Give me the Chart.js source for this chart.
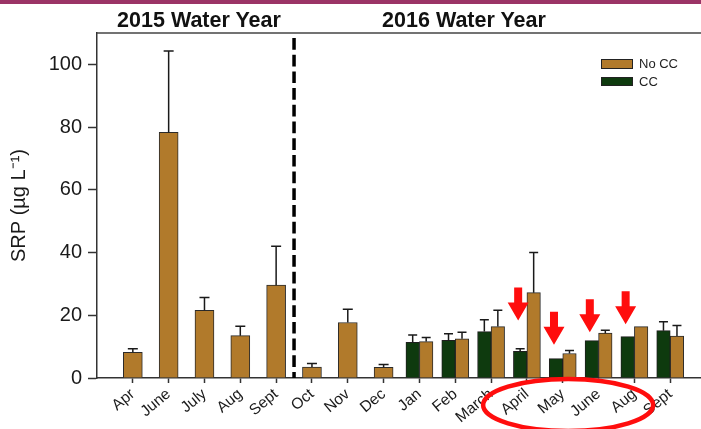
<!DOCTYPE html>
<html>
<head>
<meta charset="utf-8">
<title>SRP by month</title>
<script src="https://cdn.jsdelivr.net/npm/chart.js@4.4.0/dist/chart.umd.min.js"></script>
<style>
  body { margin:0; overflow:hidden; background:#fff; font-family:"Liberation Sans", Arial, sans-serif; }
  #wrap { position:relative; width:720px; height:429px; }
  #topBar { position:absolute; left:0; top:0; width:720px; height:4px; background:#9b3466; }
  .yearTitle { position:absolute; top:8px; line-height:24px; font-weight:bold; font-size:21.5px; color:#111; white-space:nowrap; transform:translateX(-50%); }
</style>
</head>
<body>
<div id="wrap">
  <canvas id="chart" width="720" height="429"></canvas>
  <div id="topBar"></div>
  <div class="yearTitle" style="left:199px">2015 Water Year</div>
  <div class="yearTitle" style="left:464px">2016 Water Year</div>
</div>
<script>
// values (µg/L), bar top and top of error bar
let months  = ["Apr","June","July","Aug","Sept","Oct","Nov","Dec","Jan","Feb","March","April","May","June","Aug","Sept"];
let noCC    = [8.2, 78.3, 21.6, 13.5, 29.6, 3.5, 17.7, 3.4, 11.6, 12.5, 16.4, 27.2, 7.8, 14.3, 16.4, 13.4];
let noCCErr = [9.3, 104.3, 25.7, 16.5, 42.0, 4.6, 21.9, 4.3, 12.9, 14.6, 21.6, 40.0, 8.8, 15.2, null, 16.7];
let cc      = [null, null, null, null, null, null, null, null, 11.4, 12.0, 14.8, 8.5, 6.2, 11.9, 13.2, 15.1];
let ccErr   = [null, null, null, null, null, null, null, null, 13.7, 14.1, 18.6, 9.3, null, null, null, 17.9];
let yMax = 110;
let yStep = 20;
// red arrows (2016 April, May, June, Aug) and where their tips sit, in µg/L
let arrowIdx  = [11, 12, 13, 14];
let arrowTips = [18.3, 10.6, 14.6, 17.1];

const FONT = "'Liberation Sans', Arial, sans-serif";
const BROWN = "#b17a2b";
const GREEN = "#0e3a0e";

// blank slot at each end so the ticks land where the original has them
const labels = [""].concat(months, [""]);
const pad = arr => [null].concat(arr, [null]);
const single = noCC.map((v, i) => cc[i] == null ? v : null);
const paired = noCC.map((v, i) => cc[i] == null ? null : v);

const errorBars = {
  id: "errorBars",
  afterDatasetsDraw(chart) {
    const ctx = chart.ctx, ys = chart.scales.y;
    ctx.save();
    ctx.strokeStyle = "#1a1a1a";
    ctx.lineWidth = 1.5;
    chart.data.datasets.forEach((ds, di) => {
      chart.getDatasetMeta(di).data.forEach((bar, i) => {
        const top = ds.errTop[i];
        if (ds.data[i] == null || top == null) return;
        const yt = ys.getPixelForValue(top);
        const cap = bar.width > 16 ? 10 : 9;
        ctx.beginPath();
        ctx.moveTo(bar.x, bar.y); ctx.lineTo(bar.x, yt);
        ctx.moveTo(bar.x - cap / 2, yt); ctx.lineTo(bar.x + cap / 2, yt);
        ctx.stroke();
      });
    });
    ctx.restore();
  }
};

function drawArrow(ctx, x, tipY) {
  const shaftW = 8, headW = 21, headL = 18, len = 33;
  ctx.beginPath();
  ctx.moveTo(x - shaftW / 2, tipY - len);
  ctx.lineTo(x + shaftW / 2, tipY - len);
  ctx.lineTo(x + shaftW / 2, tipY - headL);
  ctx.lineTo(x + headW / 2, tipY - headL);
  ctx.lineTo(x, tipY);
  ctx.lineTo(x - headW / 2, tipY - headL);
  ctx.lineTo(x - shaftW / 2, tipY - headL);
  ctx.closePath();
  ctx.fill();
}

const decor = {
  id: "decor",
  afterDraw(chart) {
    const ctx = chart.ctx, a = chart.chartArea;
    const xs = chart.scales.x, ys = chart.scales.y;
    ctx.save();

    // top frame line
    ctx.strokeStyle = "#444";
    ctx.lineWidth = 1.5;
    ctx.beginPath();
    ctx.moveTo(a.left, a.top); ctx.lineTo(a.right, a.top);
    ctx.stroke();

    // dashed divider between the two water years
    const xd = xs.getPixelForValue(months.indexOf("Oct") + 0.5);
    ctx.strokeStyle = "#000";
    ctx.lineWidth = 3.5;
    ctx.setLineDash([11.7, 5]);
    ctx.beginPath();
    ctx.moveTo(xd, a.top + 5); ctx.lineTo(xd, a.bottom);
    ctx.stroke();
    ctx.setLineDash([]);

    // legend
    ctx.lineWidth = 1;
    ctx.strokeStyle = "#222";
    ctx.fillStyle = BROWN;
    ctx.fillRect(601, 59, 32, 10); ctx.strokeRect(601.5, 59.5, 31, 9);
    ctx.fillStyle = GREEN;
    ctx.fillRect(601, 77, 32, 9); ctx.strokeRect(601.5, 77.5, 31, 8);
    ctx.fillStyle = "#222";
    ctx.font = "13px " + FONT;
    ctx.textBaseline = "middle";
    ctx.fillText("No CC", 639, 64);
    ctx.fillText("CC", 639, 82);

    // red arrows over the CC bars
    ctx.fillStyle = "#ff0d0d";
    const ccMeta = chart.getDatasetMeta(1);
    arrowIdx.forEach((mi, k) => {
      const bar = ccMeta.data[mi + 1];
      drawArrow(ctx, bar.x - 2, ys.getPixelForValue(arrowTips[k]));
    });

    // red ellipse round the flagged months
    ctx.strokeStyle = "#ff0d0d";
    ctx.lineWidth = 4.5;
    ctx.beginPath();
    ctx.ellipse(xs.getPixelForValue(13.15), 405, 85, 26, 0, 0, Math.PI * 2);
    ctx.stroke();

    ctx.restore();
  }
};

const chart = new Chart(document.getElementById("chart"), {
  type: "bar",
  data: {
    labels: labels,
    datasets: [
      { label: "No CC", data: pad(single), errTop: pad(noCCErr), backgroundColor: BROWN,
        borderColor: "#2b2b2b", borderWidth: 1, grouped: false, barThickness: 19 },
      { label: "CC", data: pad(cc), errTop: pad(ccErr), backgroundColor: GREEN,
        borderColor: "#1f1f1f", borderWidth: 1, barThickness: 13.5 },
      { label: "No CC", data: pad(paired), errTop: pad(noCCErr), backgroundColor: BROWN,
        borderColor: "#2b2b2b", borderWidth: 1, barThickness: 13.5 }
    ]
  },
  options: {
    responsive: false,
    animation: false,
    layout: { padding: { top: 33, right: 13, left: 0, bottom: 0 } },
    plugins: { legend: { display: false }, tooltip: { enabled: false } },
    scales: {
      x: {
        offset: false,
        grid: {
          offset: false, drawOnChartArea: false, tickLength: 5, tickWidth: 1.5,
          tickColor: c => labels[c.index] === "" ? "rgba(0,0,0,0)" : "#333"
        },
        border: { color: "#333", width: 1.5 },
        ticks: { autoSkip: false, minRotation: 40, maxRotation: 40, padding: 2, color: "#1a1a1a",
                 font: { family: FONT, size: 15.5 } },
        afterFit: s => { s.height = 51; }
      },
      y: {
        min: 0, max: yMax,
        grid: { drawOnChartArea: false, tickLength: 9, tickWidth: 1.5, tickColor: "#333" },
        border: { color: "#333", width: 1.5 },
        ticks: { stepSize: yStep, includeBounds: false, padding: 6, color: "#1a1a1a",
                 font: { family: FONT, size: 20 } },
        title: { display: true, text: "SRP (µg L⁻¹)", color: "#1a1a1a",
                 font: { family: FONT, size: 20 }, padding: { top: 7, bottom: 0 } },
        afterFit: s => { s.width = 97; }
      }
    }
  },
  plugins: [errorBars, decor]
});
</script>
</body>
</html>
